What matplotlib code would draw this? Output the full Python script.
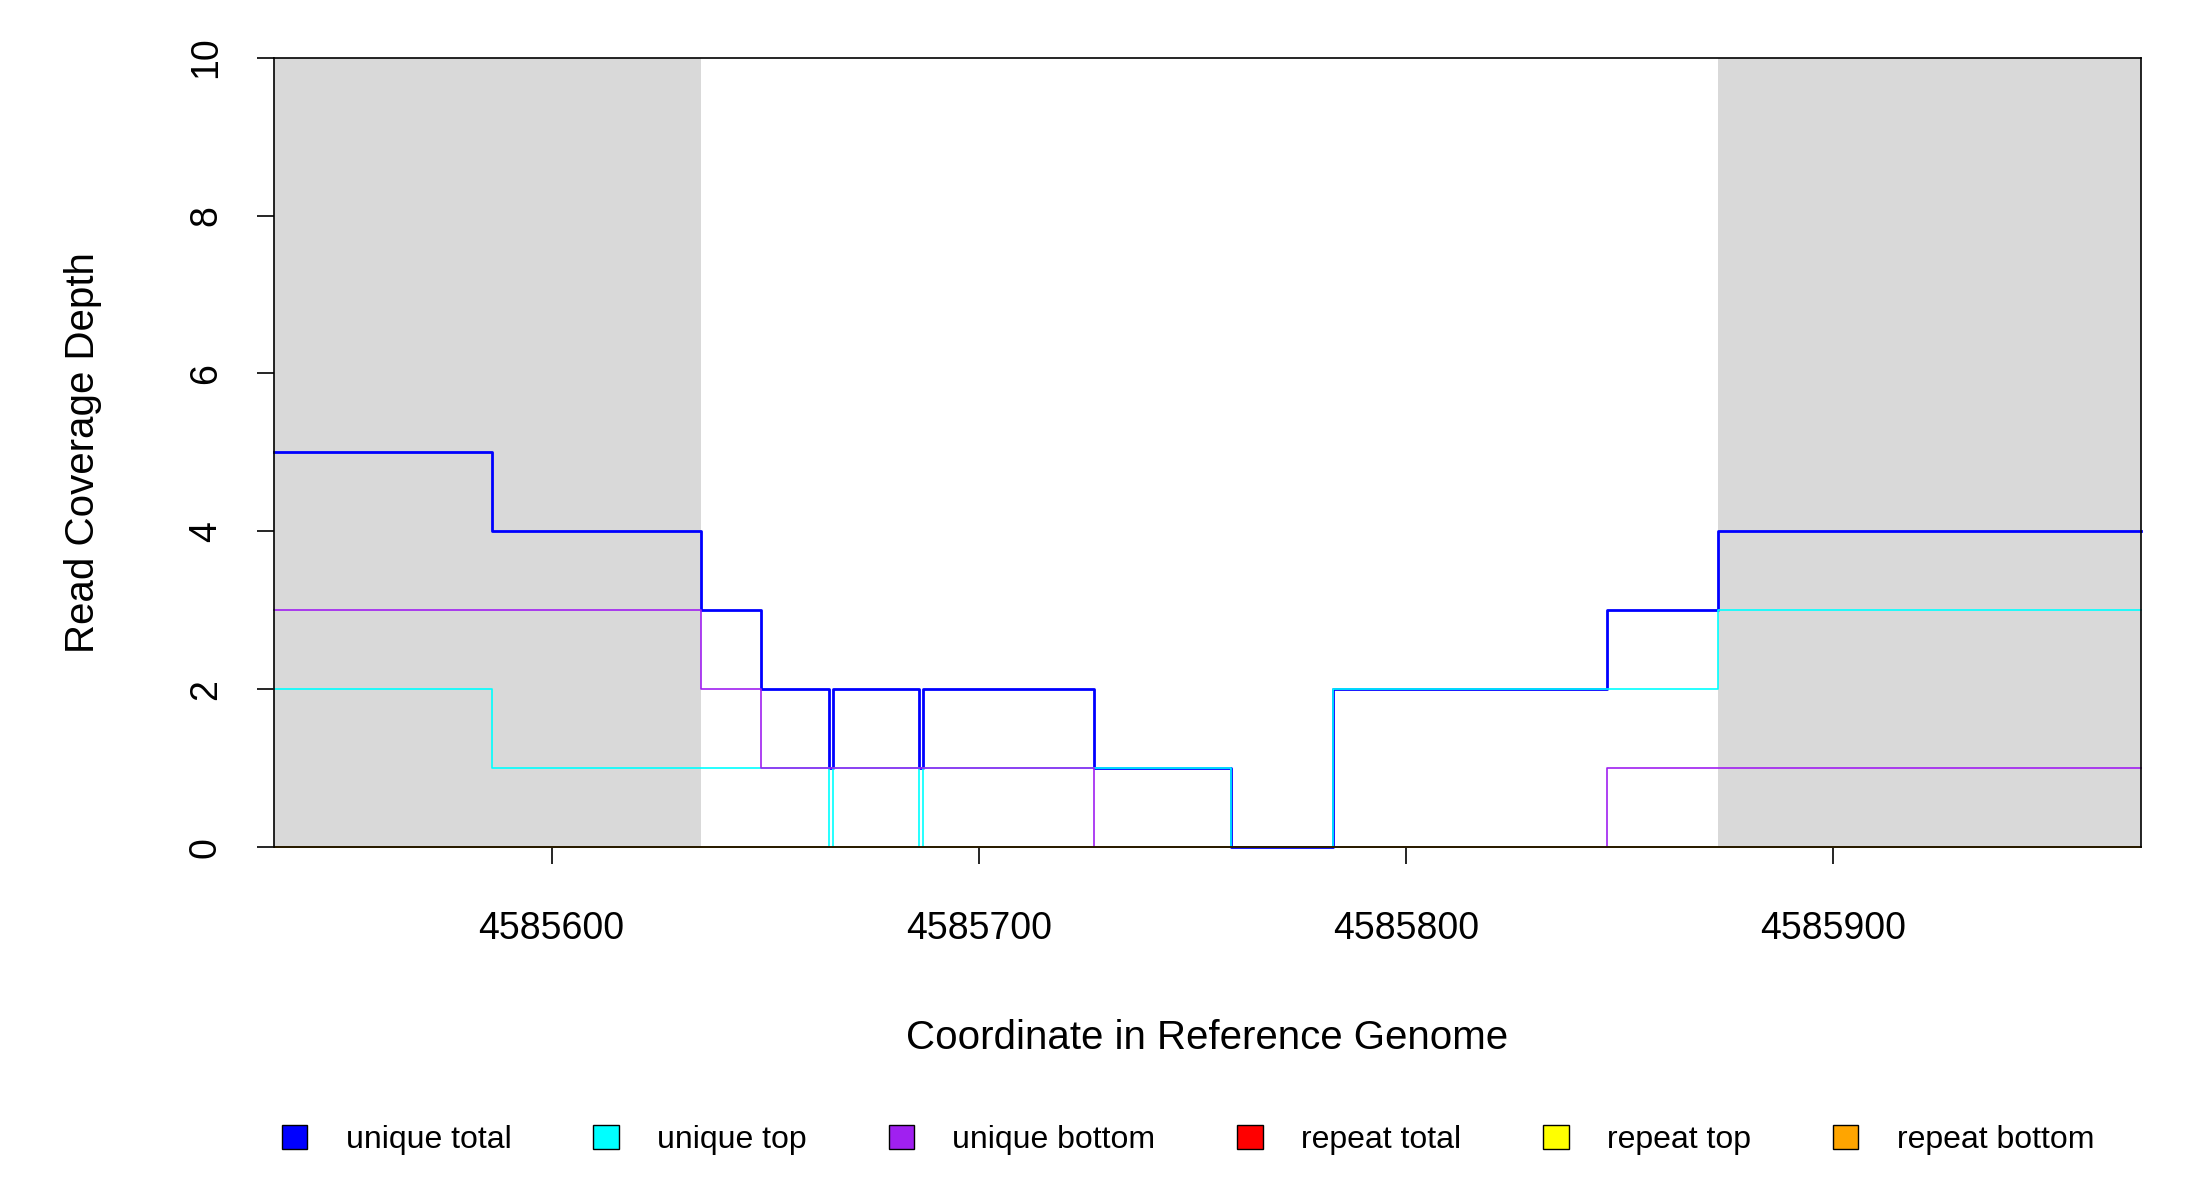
import numpy as np
import matplotlib.pyplot as plt
from matplotlib.patches import Patch

plt.rcParams['font.family'] = ['Liberation Sans', 'DejaVu Sans']

# step edges (genome coordinates) and depth on each interval
edges = [4585535, 4585586, 4585635, 4585649, 4585665, 4585666, 4585686,
         4585687, 4585727, 4585759, 4585783, 4585847, 4585873, 4585972]
unique_total = [5, 4, 3, 2, 1, 2, 1, 2, 1, 0, 2, 3, 4]
unique_top = [2, 1, 1, 1, 0, 1, 0, 1, 1, 0, 2, 2, 3]
unique_bottom = [3, 3, 2, 1, 1, 1, 1, 1, 0, 0, 0, 1, 1]
repeat_total = [0] * 13
repeat_top = [0] * 13
repeat_bottom = [0] * 13

shaded = [(4585535, 4585635), (4585873, 4585972)]
xticks = [4585600, 4585700, 4585800, 4585900]

series = [
    ('unique total', unique_total, '#0000FF', 2.0),
    ('unique top', unique_top, '#00FFFF', 1.2),
    ('unique bottom', unique_bottom, '#A020F0', 1.2),
    ('repeat total', repeat_total, '#FF0000', 1.2),
    ('repeat top', repeat_top, '#FFFF00', 1.2),
    ('repeat bottom', repeat_bottom, '#FFA500', 1.2),
]

fig = plt.figure(figsize=(22, 12), dpi=100)
ax = fig.add_axes([0.1245, 0.294, 0.8485, 0.658])

for a, b in shaded:
    ax.axvspan(a, b, color='#D9D9D9', lw=0, zorder=0)

for name, vals, col, lw in series:
    ax.plot(edges, vals + [vals[-1]], drawstyle='steps-post', color=col, lw=lw,
            clip_on=False)

ax.set_xlim(edges[0], edges[-1])
ax.set_ylim(0, 10)
ax.set_xticks(xticks)
ax.set_xticklabels([str(t) for t in xticks])
ax.set_yticks([0, 2, 4, 6, 8, 10])
ax.set_yticklabels(['0', '2', '4', '6', '8', '10'], rotation=90, va='center')
ax.tick_params(axis='both', labelsize=27, length=12, width=1.2)
ax.tick_params(axis='x', pad=34)
ax.tick_params(axis='y', pad=24)
for s in ax.spines.values():
    s.set_linewidth(1.2)
ax.set_xlabel('Coordinate in Reference Genome', fontsize=29, labelpad=52)
ax.set_ylabel('Read Coverage Depth', fontsize=29, labelpad=62)

handles = [Patch(facecolor=c, edgecolor='black', label=n) for n, _, c, _ in series]
fig.legend(handles=handles, loc='center', ncol=6, frameon=False, fontsize=23,
           bbox_to_anchor=(0.115, 0.0, 0.85, 0.1), mode='expand',
           handlelength=0.8, handleheight=0.8, handletextpad=1.2)

fig.savefig('out.png', dpi=100)
